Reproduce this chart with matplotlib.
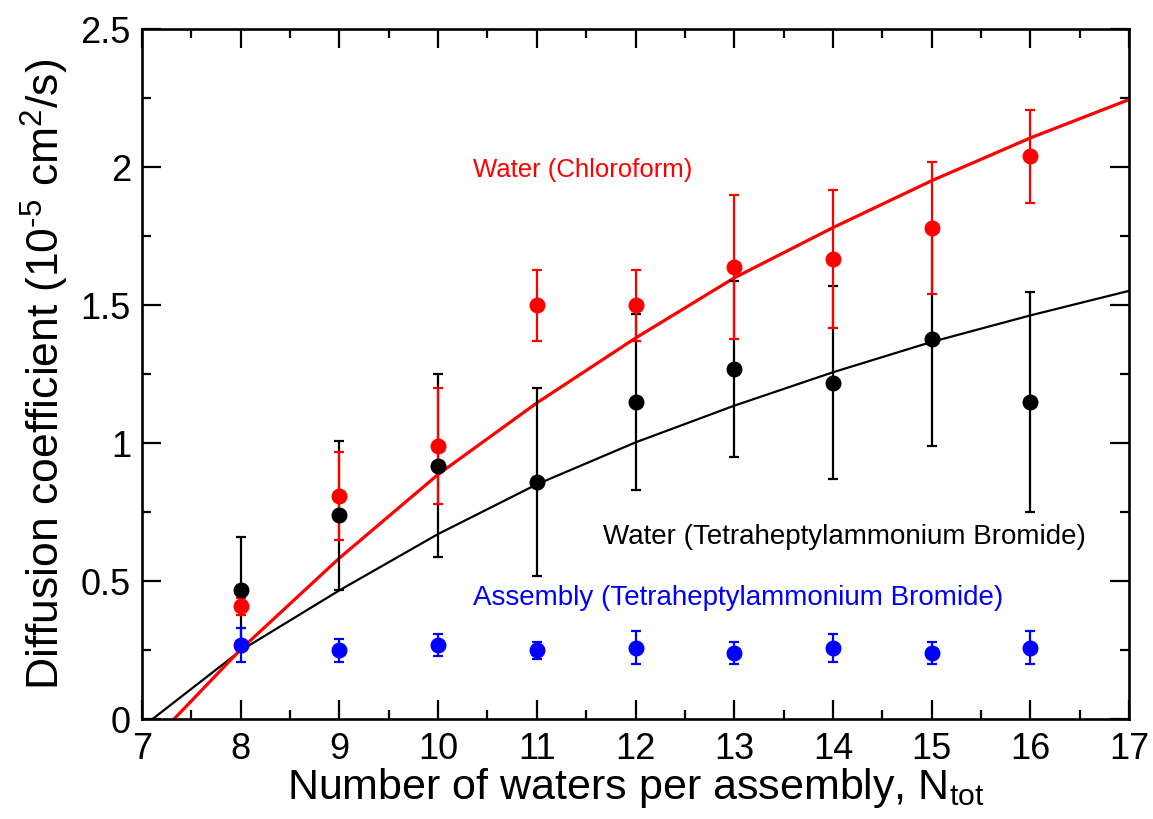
import matplotlib
matplotlib.use("Agg")
import matplotlib.pyplot as plt
from matplotlib.ticker import MultipleLocator

plt.rcParams['font.family'] = ['Liberation Sans', 'DejaVu Sans']
plt.rcParams['mathtext.fontset'] = 'custom'
plt.rcParams['mathtext.rm'] = 'Liberation Sans'
plt.rcParams['mathtext.it'] = 'Liberation Sans:italic'
plt.rcParams['mathtext.bf'] = 'Liberation Sans:bold'

# ---- data ----
n_waters = [8, 9, 10, 11, 12, 13, 14, 15, 16]

water_chloroform = [0.41, 0.81, 0.99, 1.50, 1.50, 1.64, 1.67, 1.78, 2.04]
water_chloroform_err = [0.03, 0.16, 0.21, 0.13, 0.13, 0.26, 0.25, 0.24, 0.17]

water_thab = [0.47, 0.74, 0.92, 0.86, 1.15, 1.27, 1.22, 1.38, 1.15]
water_thab_err = [0.19, 0.27, 0.33, 0.34, 0.32, 0.32, 0.35, 0.39, 0.40]

assembly_thab = [0.27, 0.25, 0.27, 0.25, 0.26, 0.24, 0.26, 0.24, 0.26]
assembly_thab_err = [0.06, 0.04, 0.04, 0.03, 0.06, 0.04, 0.05, 0.04, 0.06]

# fitted curves
fit_x_black = [7.10, 8, 9, 10, 11, 12, 13, 14, 15, 16, 17]
fit_y_black = [0.0, 0.25, 0.468, 0.672, 0.852, 1.004, 1.137, 1.258, 1.368, 1.464, 1.553]
fit_x_red = [7.32, 8, 9, 10, 11, 12, 13, 14, 15, 16, 17]
fit_y_red = [0.0, 0.254, 0.585, 0.888, 1.147, 1.382, 1.600, 1.782, 1.952, 2.107, 2.246]

x_ticks = [7, 8, 9, 10, 11, 12, 13, 14, 15, 16, 17]
y_ticks = [0, 0.5, 1, 1.5, 2, 2.5]
y_tick_labels = ['0', '0.5', '1', '1.5', '2', '2.5']

fig = plt.figure(figsize=(11.53, 8.19), dpi=100)
ax = fig.add_axes([0.1232, 0.1215, 0.8560, 0.8425])

ax.plot(fit_x_black, fit_y_black, color='black', lw=1.6, zorder=2)
ax.plot(fit_x_red, fit_y_red, color='red', lw=2.3, zorder=2)

common = dict(fmt='o', markersize=10.5, elinewidth=1.6, capsize=3.8, capthick=1.6, zorder=3)
ax.errorbar(n_waters, water_thab, yerr=water_thab_err, color='black', **common)
ax.errorbar(n_waters, water_chloroform, yerr=water_chloroform_err, color='red', **common)
ax.errorbar(n_waters, assembly_thab, yerr=assembly_thab_err, color='blue', **common)

ax.text(10.357, 1.99, 'Water (Chloroform)', color='red', fontsize=18.5, va='center', ha='left')
ax.text(11.675, 0.663, 'Water (Tetraheptylammonium Bromide)', color='black', fontsize=20, va='center', ha='left')
ax.text(10.357, 0.441, 'Assembly (Tetraheptylammonium Bromide)', color='blue', fontsize=20, va='center', ha='left')

ax.set_xlim(7, 17)
ax.set_ylim(0, 2.5)
ax.set_xticks(x_ticks)
ax.set_yticks(y_ticks)
ax.set_yticklabels(y_tick_labels)
ax.xaxis.set_minor_locator(MultipleLocator(0.5))
ax.yaxis.set_minor_locator(MultipleLocator(0.25))
ax.tick_params(which='both', direction='in', top=True, right=True, width=1.6, labelsize=26)
ax.tick_params(which='major', length=13.5)
ax.tick_params(which='minor', length=6.5)
ax.tick_params(axis='x', pad=9)
ax.tick_params(axis='y', pad=8)
for s in ax.spines.values():
    s.set_linewidth(1.9)

ax.set_xlabel(r'Number of waters per assembly, N$_{\mathrm{tot}}$', fontsize=31, labelpad=-1)
ax.set_ylabel('Diffusion coefficient (10$^{\\text{-5}}$ cm$^{2}$/s)', fontsize=32, labelpad=7)

fig.savefig('out.png', dpi=100)
